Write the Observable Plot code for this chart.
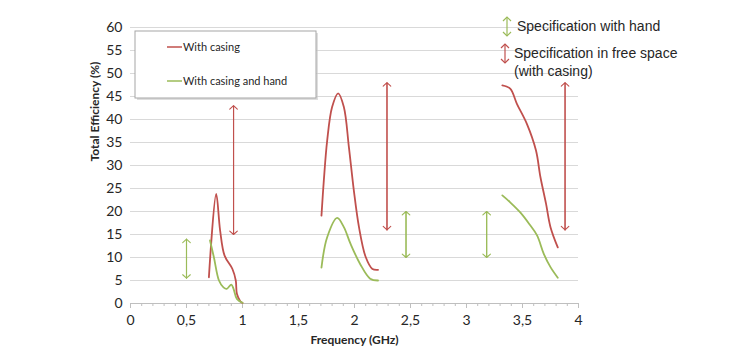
<!DOCTYPE html>
<html>
<head>
<meta charset="utf-8">
<script src="https://cdn.jsdelivr.net/npm/d3@7"></script>
<script src="https://cdn.jsdelivr.net/npm/@observablehq/plot@0.6"></script>
<style>
  html, body { margin: 0; padding: 0; background: #fff; }
  #chart { position: relative; width: 736px; height: 364px; }
</style>
</head>
<body>
<div id="chart"></div>
<script>
// ---- Data ----
const seriesNames = ["With casing", "With casing and hand"];
const seriesColors = ["#c0504d", "#9bbb59"];

// "With casing" bands
const casingLowF  = [0.70, 0.765, 0.80, 0.84, 0.91, 0.94, 0.95, 0.98, 1.00];
const casingLowE  = [5.7, 23.8, 15.9, 10.4, 7.5, 5.0, 2.1, 0.5, 0.1];
const casingMidF  = [1.705, 1.726, 1.756, 1.80, 1.854, 1.905, 1.95, 1.994, 2.04, 2.10, 2.16, 2.21];
const casingMidE  = [19.1, 26.7, 35.4, 42.7, 45.7, 42.7, 34.0, 24.6, 16.6, 10.1, 7.5, 7.3];
const casingHighF = [3.32, 3.39, 3.45, 3.54, 3.62, 3.66, 3.71, 3.75, 3.815];
const casingHighE = [47.4, 46.7, 43.4, 39.0, 33.3, 27.5, 21.7, 16.6, 12.2];

// "With casing and hand" bands
const handLowF  = [0.71, 0.745, 0.79, 0.83, 0.86, 0.90, 0.92, 0.95, 1.00];
const handLowE  = [13.7, 10.0, 5.0, 3.5, 3.2, 4.1, 3.2, 1.0, 0.15];
const handMidF  = [1.705, 1.756, 1.845, 1.905, 1.964, 2.05, 2.14, 2.21];
const handMidE  = [7.8, 14.4, 18.6, 16.6, 13.0, 8.6, 5.4, 5.0];
const handHighF = [3.32, 3.39, 3.48, 3.56, 3.63, 3.69, 3.75, 3.815];
const handHighE = [23.5, 22.0, 19.8, 17.3, 14.8, 10.8, 7.9, 5.6];

// Specification arrows
const specFreeF    = [0.92, 2.29, 3.88];
const specFreeLow  = [15, 16, 16];
const specFreeHigh = [43, 48, 48];
const specHandF    = [0.50, 2.46, 3.18];
const specHandLow  = [5.5, 10, 10];
const specHandHigh = [14, 20, 20];

// Axes
const xTicks = [0, 0.5, 1, 1.5, 2, 2.5, 3, 3.5, 4];
const xMinorTicks = [0.1,0.2,0.3,0.4,0.6,0.7,0.8,0.9,1.1,1.2,1.3,1.4,1.6,1.7,1.8,1.9,2.1,2.2,2.3,2.4,2.6,2.7,2.8,2.9,3.1,3.2,3.3,3.4,3.6,3.7,3.8,3.9];
const yTicks = [0, 5, 10, 15, 20, 25, 30, 35, 40, 45, 50, 55, 60];
const xLabel = "Frequency (GHz)";
const yLabel = "Total Efficiency (%)";
const annotHand = "Specification with hand";
const annotFree1 = "Specification in free space";
const annotFree2 = "(with casing)";

// ---- Build tables ----
function band(fs, es, series, id) {
  return fs.map((f, i) => ({f, e: es[i], series, band: series + id}));
}
const lines = [
  ...band(casingLowF, casingLowE, seriesNames[0], "a"),
  ...band(casingMidF, casingMidE, seriesNames[0], "b"),
  ...band(casingHighF, casingHighE, seriesNames[0], "c"),
  ...band(handLowF, handLowE, seriesNames[1], "a"),
  ...band(handMidF, handMidE, seriesNames[1], "b"),
  ...band(handHighF, handHighE, seriesNames[1], "c")
];
const arrows = [
  ...specFreeF.map((f, i) => ({f, lo: specFreeLow[i], hi: specFreeHigh[i], kind: seriesNames[0]})),
  ...specHandF.map((f, i) => ({f, lo: specHandLow[i], hi: specHandHigh[i], kind: seriesNames[1]}))
];

const W = 736, H = 364;
const arrowOpts = {stroke: "kind", strokeWidth: 1.1, headLength: 7, headAngle: 95};
const plot = Plot.plot({
  width: W,
  height: H,
  marginLeft: 130,
  marginRight: 158,
  marginTop: 27,
  marginBottom: 61,
  style: {fontFamily: "Lato, 'Open Sans', sans-serif", fontSize: "14px", color: "#262626", background: "#fff"},
  x: {domain: [0, 4]},
  y: {domain: [0, 60]},
  color: {domain: seriesNames, range: seriesColors},
  marks: [
    Plot.gridY(yTicks.filter(d => d > 0), {stroke: "#d9d9d9", strokeOpacity: 1}),
    Plot.ruleY([0], {stroke: "#bfbfbf"}),
    Plot.axisY({ticks: yTicks, tickSize: 0, tickPadding: 8, label: null, fontSize: 14}),
    Plot.axisX({ticks: xTicks, tickSize: 5, tickPadding: 7, label: null, stroke: "#bfbfbf",
                tickFormat: d => String(d).replace(".", ","), fontSize: 14}),
    Plot.axisX({ticks: xMinorTicks, tickSize: 3, label: null, stroke: "#bfbfbf", tickFormat: () => ""}),
    Plot.line(lines, {x: "f", y: "e", z: "band", stroke: "series", strokeWidth: 1.8, curve: "catmull-rom"}),
    Plot.arrow(arrows, {x1: "f", x2: "f", y1: "lo", y2: "hi", ...arrowOpts}),
    Plot.arrow(arrows, {x1: "f", x2: "f", y1: "hi", y2: "lo", ...arrowOpts}),
    Plot.text([yLabel], {frameAnchor: "left", dx: -35, dy: -4, rotate: -90, fontWeight: "bold", fontSize: 12}),
    Plot.text([xLabel], {frameAnchor: "bottom", dy: 40, fontWeight: "bold", fontSize: 12})
  ]
});
document.getElementById("chart").appendChild(plot);

// ---- Legend box (inside plot area, top left) ----
const svg = d3.select(plot);
const lg = svg.append("g").attr("font-family", "Lato, 'Open Sans', sans-serif")
  .attr("font-size", 11).attr("text-anchor", "start");
lg.append("rect").attr("x", 137).attr("y", 33).attr("width", 181).attr("height", 67)
  .attr("fill", "#c8c8c8").attr("opacity", 0.6);
lg.append("rect").attr("x", 135).attr("y", 31).attr("width", 181).attr("height", 67)
  .attr("fill", "#fff").attr("stroke", "#a6a6a6");
seriesNames.forEach((name, i) => {
  const y = 47 + i * 34;
  lg.append("line").attr("x1", 167).attr("x2", 182).attr("y1", y).attr("y2", y)
    .attr("stroke", seriesColors[i]).attr("stroke-width", 1.5);
  lg.append("text").attr("x", 183).attr("y", y).attr("dy", "0.35em").attr("fill", "#262626").text(name);
});

// ---- Specification annotation (top right) ----
const an = svg.append("g").attr("font-family", "'Liberation Sans', Arial, sans-serif")
  .attr("font-size", 14).attr("fill", "#262626").attr("text-anchor", "start");
function dbl(x, y1, y2, color) {
  an.append("line").attr("x1", x).attr("x2", x).attr("y1", y1).attr("y2", y2).attr("stroke", color).attr("stroke-width", 1.2);
  an.append("path").attr("d", `M${x-4},${y1+4}L${x},${y1}L${x+4},${y1+4}M${x-4},${y2-4}L${x},${y2}L${x+4},${y2-4}`)
    .attr("fill", "none").attr("stroke", color).attr("stroke-width", 1.2);
}
dbl(507, 17, 36, seriesColors[1]);
dbl(505, 44, 63, seriesColors[0]);
an.append("text").attr("x", 517).attr("y", 26).attr("dy", "0.35em").text(annotHand);
an.append("text").attr("x", 514).attr("y", 53).attr("dy", "0.35em").text(annotFree1);
an.append("text").attr("x", 514).attr("y", 71).attr("dy", "0.35em").text(annotFree2);
</script>
</body>
</html>
